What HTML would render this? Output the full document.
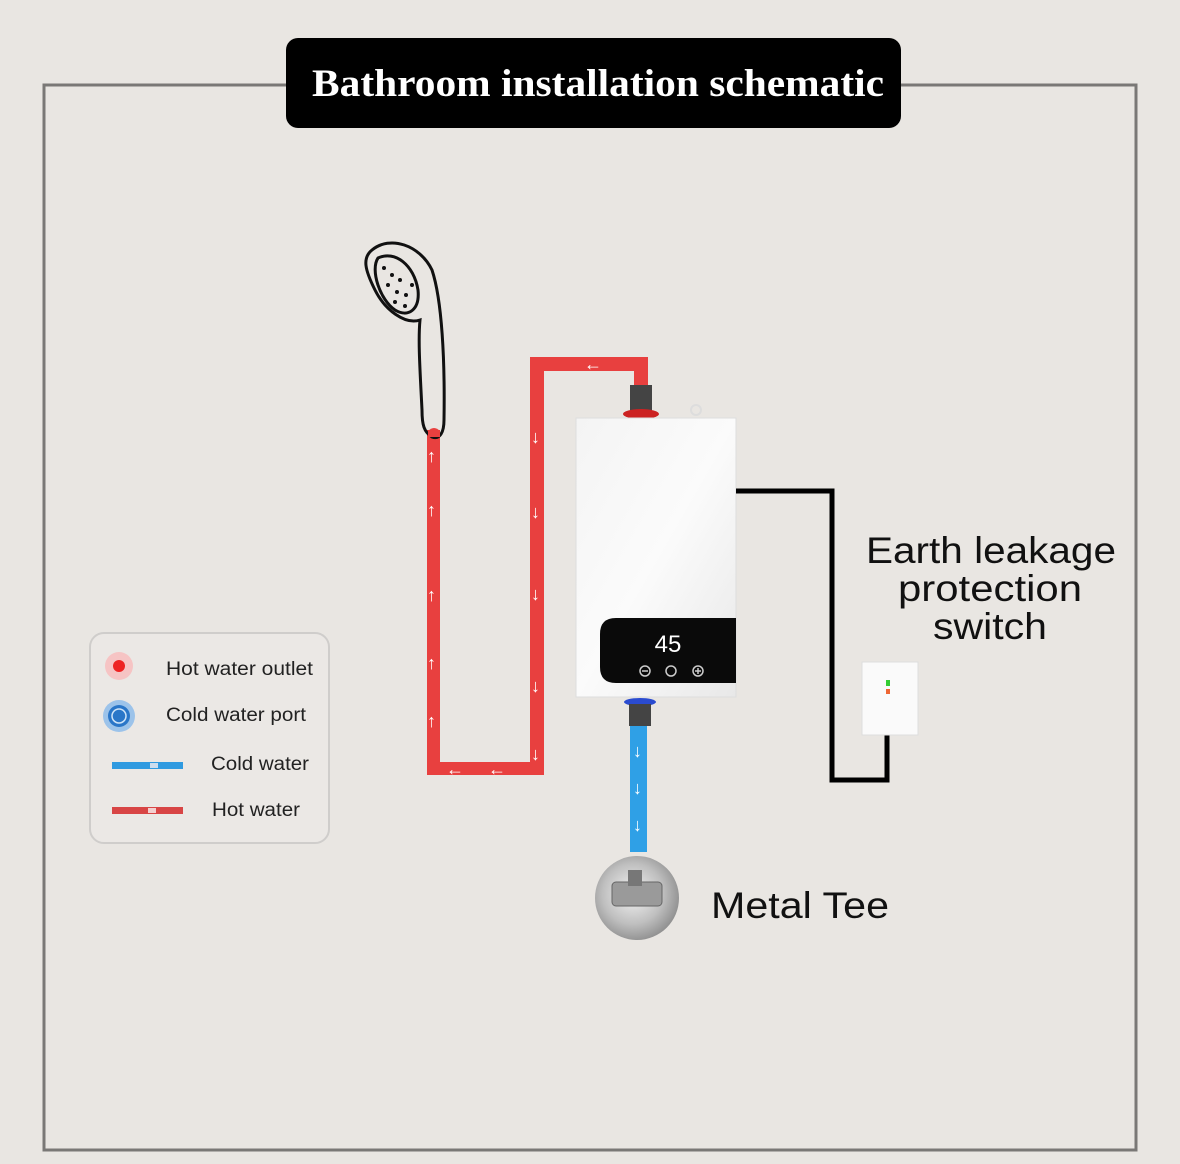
<!DOCTYPE html>
<html><head><meta charset="utf-8"><style>
html,body{margin:0;padding:0;background:#e9e6e2;}
svg{display:block}
text{font-family:"Liberation Sans","DejaVu Sans",sans-serif}
</style></head><body>
<svg width="1180" height="1164" viewBox="0 0 1180 1164" xmlns="http://www.w3.org/2000/svg">
<defs>
<linearGradient id="hg" x1="0" y1="0" x2="1" y2="1"><stop offset="0" stop-color="#f4f4f4"/><stop offset="0.5" stop-color="#fbfbfb"/><stop offset="1" stop-color="#e8e8e8"/></linearGradient>
<radialGradient id="tg" cx="0.45" cy="0.45" r="0.6"><stop offset="0" stop-color="#f4f4f4"/><stop offset="0.6" stop-color="#bfbfbf"/><stop offset="1" stop-color="#8a8a8a"/></radialGradient>
</defs>
<rect width="1180" height="1164" fill="#e9e6e2"/>
<rect x="44" y="85" width="1092" height="1065" fill="none" stroke="#7a7876" stroke-width="3"/>
<rect x="286" y="38" width="615" height="90" rx="12" fill="#000"/>
<text x="312" y="96" fill="#fff" font-size="39" font-weight="bold" textLength="572" lengthAdjust="spacingAndGlyphs" style="font-family:'Liberation Serif',serif">Bathroom installation schematic</text>

<!-- red pipes -->
<g fill="#e8403f">
<rect x="427" y="430" width="13" height="345"/>
<rect x="427" y="762" width="117" height="13"/>
<rect x="530" y="357" width="14" height="418"/>
<rect x="530" y="357" width="118" height="14"/>
<rect x="634" y="357" width="14" height="32"/>
</g>
<g fill="#fff" font-size="18" font-weight="bold">
<text x="427" y="462">↑</text><text x="427" y="516">↑</text><text x="427" y="601">↑</text><text x="427" y="669">↑</text><text x="427" y="727">↑</text>
<text x="531" y="443">↓</text><text x="531" y="518">↓</text><text x="531" y="600">↓</text><text x="531" y="692">↓</text><text x="531" y="760">↓</text>
<text x="446" y="775">←</text><text x="488" y="775">←</text><text x="584" y="370">←</text>
</g>
<!-- shower head -->
<g fill="none" stroke="#111" stroke-width="3" stroke-linecap="round">
<path d="M372 250 C390 235 420 245 432 270 C442 300 445 360 444 420 C444 432 440 440 432 437 C424 432 422 425 422 410 C420 370 418 340 420 320 C405 325 385 310 375 290 C365 270 362 258 372 250 Z"/>
<path d="M378 258 C395 250 414 265 418 290 C420 310 408 318 395 310 C380 300 370 270 378 258 Z"/>
</g>
<g fill="#111">
<circle cx="384" cy="268" r="2"/><circle cx="392" cy="275" r="2"/><circle cx="400" cy="280" r="2"/><circle cx="388" cy="285" r="2"/><circle cx="397" cy="292" r="2"/><circle cx="406" cy="295" r="2"/><circle cx="395" cy="302" r="2"/><circle cx="405" cy="306" r="2"/><circle cx="412" cy="285" r="2"/>
</g>
<path d="M428 431 q6 -6 12 0 l0 6 l-12 0z" fill="#e8403f"/>

<!-- heater -->
<rect x="630" y="385" width="22" height="28" fill="#444"/>
<ellipse cx="641" cy="414" rx="18" ry="5" fill="#c22"/>
<rect x="576" y="418" width="160" height="279" fill="url(#hg)" stroke="#ddd"/>
<path d="M616 618 H736 V683 H616 Q600 683 600 667 V634 Q600 618 616 618 Z" fill="#0a0a0a"/>
<text x="668" y="652" text-anchor="middle" fill="#fff" font-size="24">45</text>
<g fill="none" stroke="#ccc" stroke-width="1.5"><circle cx="645" cy="671" r="5"/><circle cx="671" cy="671" r="5"/><circle cx="698" cy="671" r="5"/></g>
<g stroke="#ccc" stroke-width="1.5"><line x1="642" y1="671" x2="648" y2="671"/><line x1="695" y1="671" x2="701" y2="671"/><line x1="698" y1="668" x2="698" y2="674"/></g>
<circle cx="696" cy="410" r="5" fill="none" stroke="#ddd" stroke-width="2"/>
<!-- cold -->
<ellipse cx="640" cy="702" rx="16" ry="4" fill="#2a4bd0"/>
<rect x="629" y="704" width="22" height="22" fill="#444"/>
<rect x="630" y="726" width="17" height="126" fill="#2fa0e6"/>
<g fill="#fff" font-size="18" font-weight="bold"><text x="633" y="757">↓</text><text x="633" y="794">↓</text><text x="633" y="831">↓</text></g>
<circle cx="637" cy="898" r="42" fill="url(#tg)"/>
<rect x="612" y="882" width="50" height="24" rx="4" fill="#9a9a9a" stroke="#666"/>
<rect x="628" y="870" width="14" height="16" fill="#777"/>
<text x="711" y="918" font-size="37" fill="#111" textLength="178" lengthAdjust="spacingAndGlyphs">Metal Tee</text>

<!-- wire -->
<path d="M736 491 H832 V780 H887 V735" fill="none" stroke="#000" stroke-width="5"/>
<rect x="862" y="662" width="56" height="73" fill="#fafafa" stroke="#ddd"/>
<rect x="886" y="680" width="4" height="6" fill="#3c3"/><rect x="886" y="689" width="4" height="5" fill="#e63"/>
<g font-size="37" fill="#111">
<text x="866" y="563" textLength="250" lengthAdjust="spacingAndGlyphs">Earth leakage</text>
<text x="898" y="601" textLength="184" lengthAdjust="spacingAndGlyphs">protection</text>
<text x="933" y="639" textLength="114" lengthAdjust="spacingAndGlyphs">switch</text>
</g>

<!-- legend -->
<rect x="90" y="633" width="239" height="210" rx="14" fill="#ebe8e5" stroke="#cfcdcb" stroke-width="2"/>
<circle cx="119" cy="666" r="14" fill="#f6c4c4"/><circle cx="119" cy="666" r="6" fill="#ee2222"/>
<circle cx="119" cy="716" r="16" fill="#9cc3ea"/><circle cx="119" cy="716" r="11" fill="#2a76c8"/><circle cx="119" cy="716" r="7" fill="none" stroke="#cfe4f8" stroke-width="1.5"/>
<rect x="112" y="762" width="71" height="7" fill="#2f9ae0"/><rect x="150" y="763" width="8" height="5" fill="#cde"/>
<rect x="112" y="807" width="71" height="7" fill="#d84545"/><rect x="148" y="808" width="8" height="5" fill="#f3d0d0"/>
<g font-size="19" fill="#222">
<text x="166" y="675" textLength="147" lengthAdjust="spacingAndGlyphs">Hot water outlet</text>
<text x="166" y="721" textLength="140" lengthAdjust="spacingAndGlyphs">Cold water port</text>
<text x="211" y="770" textLength="98" lengthAdjust="spacingAndGlyphs">Cold water</text>
<text x="212" y="816" textLength="88" lengthAdjust="spacingAndGlyphs">Hot water</text>
</g>
</svg>
</body></html>
